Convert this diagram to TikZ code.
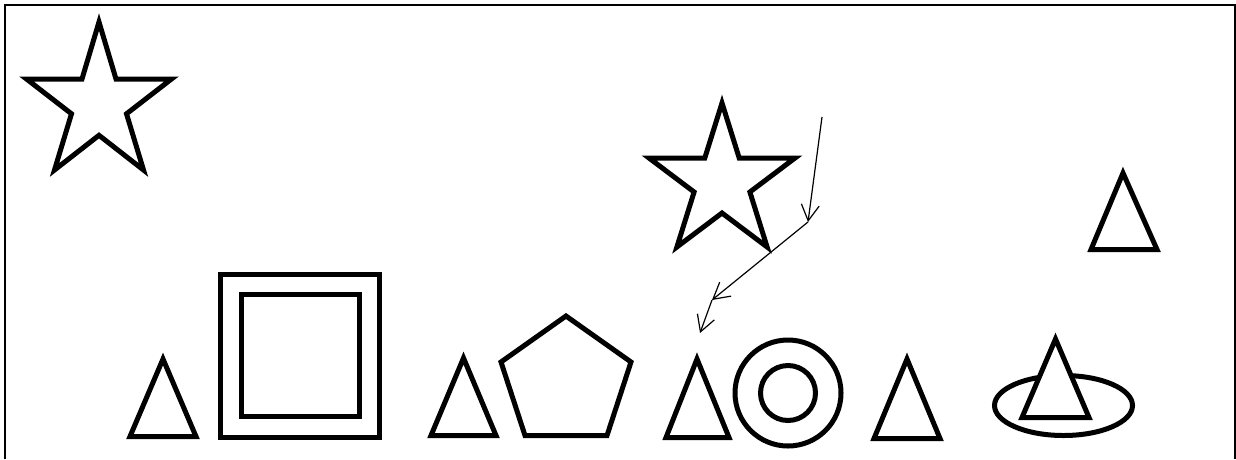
\documentclass[tikz,border=0pt]{standalone}
\usetikzlibrary{arrows.meta}
\begin{document}
\begin{tikzpicture}[x=1pt,y=-1pt,
  shp/.style={draw=black,line width=5pt,line join=miter},
  frm/.style={draw=black,line width=2pt},
  conn/.style={draw=black,line width=1.2pt,-{Straight Barb[length=16pt,width=18pt]}}]
\useasboundingbox (0,0) rectangle (1236,459);
\fill[white] (0,0) rectangle (1236,459);
% frame (bottom edge lies outside the picture)
\draw[frm] (5,459) -- (5,5) -- (1235,5) -- (1235,459);
% stars
\draw[shp] (99,22) -- (116,79) -- (171.5,79) -- (126.5,113.8) -- (143.5,170) -- (99,135.3) -- (54.5,170) -- (71.5,113.8) -- (26.5,79) -- (82,79) -- cycle;
\draw[shp] (722,103) -- (739.2,158) -- (795,158) -- (749.9,192) -- (767.1,247) -- (722,213) -- (676.9,247) -- (694.1,192) -- (649,158) -- (704.8,158) -- cycle;
% triangles
\draw[shp] (163,359) -- (196,436.5) -- (130,436.5) -- cycle;
\draw[shp] (463.5,358) -- (496,435.5) -- (431,435.5) -- cycle;
\draw[shp] (697,359) -- (729,437.5) -- (666,437.5) -- cycle;
\draw[shp] (907,359) -- (940,438.5) -- (874,438.5) -- cycle;
\draw[shp] (1123,173) -- (1157,249.5) -- (1091,249.5) -- cycle;
% squares
\draw[shp] (220.5,274.5) rectangle (379.5,437.5);
\draw[shp] (241.5,294.5) rectangle (359.5,416.5);
% pentagon
\draw[shp] (566,316) -- (631,362) -- (607,435.5) -- (525,435.5) -- (501,362) -- cycle;
% circles
\draw[shp] (788,393) circle[radius=53];
\draw[shp] (788,393) circle[radius=27.5];
% ellipse with triangle on top
\draw[shp] (1063.5,405.5) ellipse[x radius=69,y radius=30];
\draw[shp,fill=white] (1055.5,339) -- (1089,417.5) -- (1022,417.5) -- cycle;
% arrows
\coordinate (p0) at (822,117);
\coordinate (p1) at (808,222);
\coordinate (p2) at (712,300);
\coordinate (p3) at (700,333);
\draw[conn] (p0) -- (p1);
\draw[conn] (p1) -- (p2);
\draw[conn] (p2) -- (p3);
\end{tikzpicture}
\end{document}
